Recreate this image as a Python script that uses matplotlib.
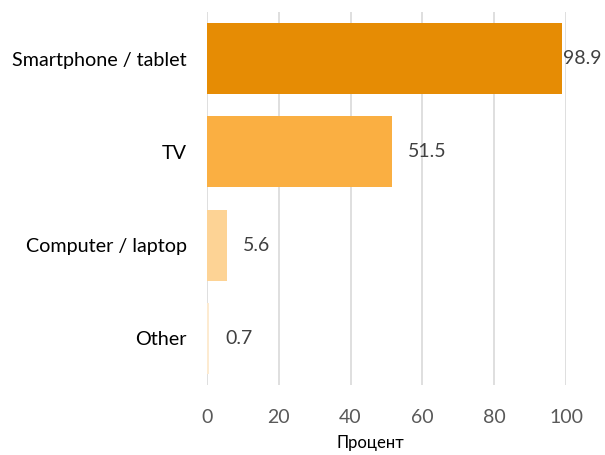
import matplotlib
matplotlib.use("Agg")
import matplotlib.pyplot as plt

categories = ["Smartphone / tablet", "TV", "Computer / laptop", "Other"]
values = [98.9, 51.5, 5.6, 0.7]
colors = ["#E68C04", "#FAAF42", "#FDD395", "#FDEBD1"]
xticks = [0, 20, 40, 60, 80, 100]
xlabel = "Процент"

plt.rcParams['font.family'] = ['Lato', 'DejaVu Sans']

fig = plt.figure(figsize=(6.05, 4.55), dpi=100)
ax = fig.add_axes([0.342, 0.1538, 0.5935, 0.8198])

y = list(range(len(categories)))
ax.barh(y, values, height=0.76, color=colors, zorder=2)
ax.set_ylim(len(categories) - 0.5, -0.5)
ax.set_xlim(0, 100)
ax.set_xticks(xticks)
ax.set_xticklabels([str(t) for t in xticks], fontsize=14, color="#595959")
ax.set_yticks(y)
ax.set_yticklabels(categories, fontsize=14.2, color="#000000")
ax.tick_params(axis='both', length=0)
ax.tick_params(axis='y', pad=14.5)
ax.tick_params(axis='x', pad=17)
for s in ax.spines.values():
    s.set_visible(False)
ax.xaxis.grid(True, color="#D9D9D9", linewidth=1.2, zorder=0)
ax.set_axisbelow(True)
ax.set_xlabel(xlabel, fontsize=12, color="#000000")
ax.xaxis.set_label_coords(0.454, -0.135)

# value labels: 16 px to the right of bar end, clamped to fit the figure
px_per_unit = ax.get_position().width * fig.get_figwidth() * fig.dpi / 100.0
for yi, v in zip(y, values):
    xpos = v + 16 / px_per_unit
    xpos = min(xpos, 99.3)
    ax.text(xpos, yi, f"{v}", va="center", ha="left", fontsize=14,
            color="#404040", clip_on=False)

fig.savefig("out.png", dpi=100)
